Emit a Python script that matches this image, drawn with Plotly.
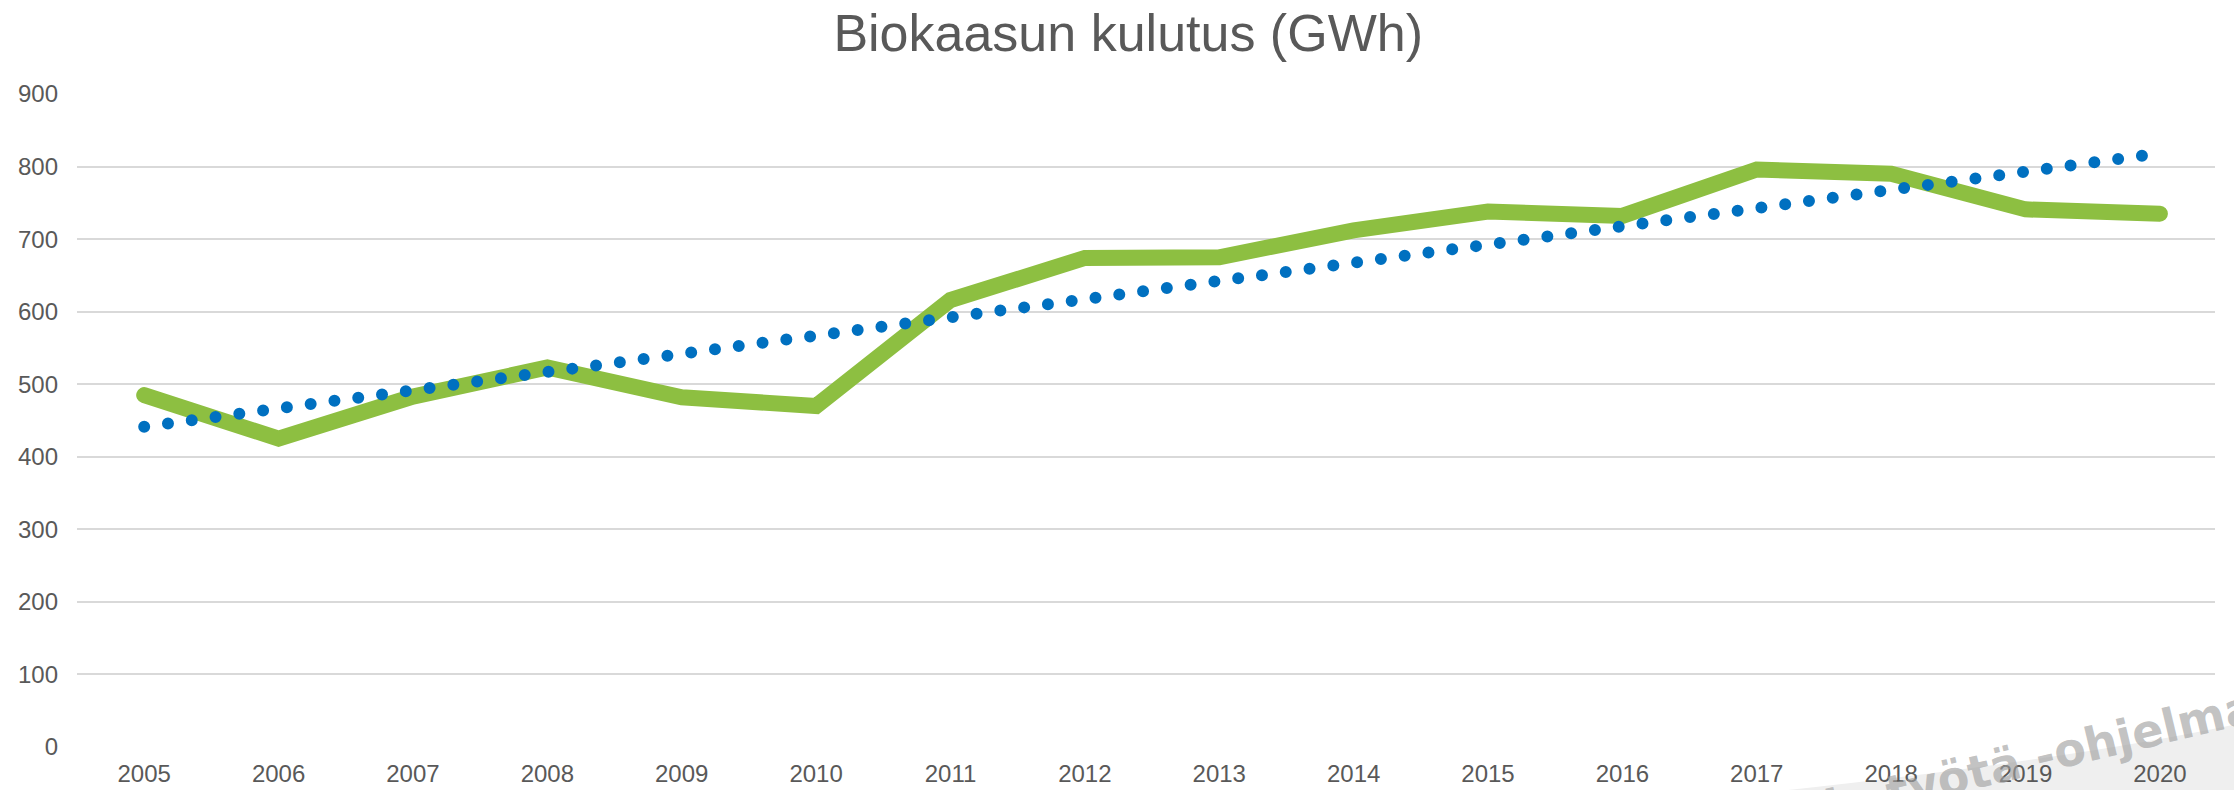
import numpy as np
import plotly.graph_objects as go

# ---- data ----
years = list(range(2005, 2021))
consumption = [485, 425, 483, 523, 482, 470, 616, 674, 675, 712, 738, 732, 796, 790, 741, 735]
y_ticks = [0, 100, 200, 300, 400, 500, 600, 700, 800, 900]
title_text = "Biokaasun kulutus (GWh)"
watermark_text = "ja työtä -ohjelma"

# linear trendline (as in the original chart's trendline)
coef = np.polyfit(years, consumption, 1)
trend = list(np.polyval(coef, years))

FONT = "Liberation Sans, Arial, sans-serif"
GREY = "#595959"

fig = go.Figure()
fig.add_trace(go.Scatter(
    x=years, y=consumption, mode="lines",
    line=dict(color="#8DBF41", width=16),
    showlegend=False, hoverinfo="x+y",
))
fig.add_trace(go.Scatter(
    x=years, y=trend, mode="lines",
    line=dict(color="#0070C0", width=12, dash="0px,24px"),
    showlegend=False, hoverinfo="skip",
))

# decorative background swoosh (bottom-right corner of the slide)
fig.add_shape(type="path", xref="paper", yref="paper", layer="below",
              path="M 0.80,-0.066 Q 0.93,-0.02 1.01,0.035 L 1.01,-0.066 Z",
              fillcolor="#efefef", line=dict(width=0))

fig.add_annotation(text="<b>" + watermark_text + "</b>", xref="paper", yref="paper",
                   x=0.918, y=-0.016, showarrow=False, textangle=-13.5,
                   font=dict(family="DejaVu Sans, sans-serif", size=46, color="rgba(160,160,160,0.65)"),
                   xanchor="center", yanchor="middle")

fig.update_layout(
    width=2234, height=790,
    margin=dict(l=77, r=19, t=94, b=43),
    paper_bgcolor="white", plot_bgcolor="white",
    title=dict(text=title_text, x=0.505, xref="container", xanchor="center",
               y=0.958, yref="container", yanchor="middle",
               font=dict(family=FONT, size=52, color=GREY)),
    font=dict(family=FONT, size=24, color=GREY),
    xaxis=dict(range=[2004.5, 2020.41], tickmode="array", tickvals=years,
               ticktext=[str(y) for y in years], showgrid=False, zeroline=False,
               showline=False, ticks="", ticklabelstandoff=10, automargin=False,
               tickfont=dict(family=FONT, size=24, color=GREY)),
    yaxis=dict(range=[0, 900], tickvals=y_ticks, showgrid=True, gridcolor="#d9d9d9",
               gridwidth=2, zeroline=False, showline=False, ticks="",
               ticklabelstandoff=18, automargin=False,
               tickfont=dict(family=FONT, size=24, color=GREY)),
)

post = """
var s=document.createElement('style');
s.innerHTML='html,body{margin:0;padding:0;overflow:hidden;} .scatterlayer .js-line{stroke-linecap:round;}';
document.head.appendChild(s);
"""
fig.write_html("out.html", post_script=post, config={"displayModeBar": False})
